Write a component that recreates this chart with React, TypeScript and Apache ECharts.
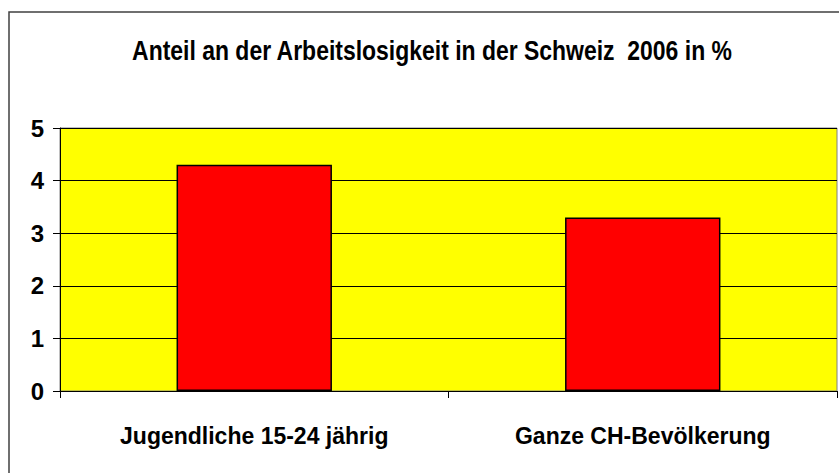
import React, { useEffect, useRef } from "react";
import * as echarts from "echarts";

const categories = ["Jugendliche 15-24 jährig", "Ganze CH-Bevölkerung"];
const values = [4.3, 3.3];
const titleText = "Anteil an der Arbeitslosigkeit in der Schweiz  2006 in %";

const FONT = "'Liberation Sans', Arial, sans-serif";

export default function App() {
  const ref = useRef<HTMLDivElement>(null);
  useEffect(() => {
    document.body.style.margin = "0";
    const chart = echarts.init(ref.current!, undefined, { renderer: "svg" });
    chart.setOption({
      animation: false,
      backgroundColor: "#ffffff",
      graphic: [
        {
          type: "text",
          x: 432,
          y: 50,
          scaleX: 0.82,
          style: {
            text: titleText,
            textAlign: "center",
            textVerticalAlign: "middle",
            fontFamily: FONT,
            fontWeight: "bold",
            fontSize: 28,
            fill: "#000",
          },
          silent: true,
        },
        {
          type: "rect",
          shape: { x: 9, y: 12, width: 860, height: 500 },
          style: { fill: "none", stroke: "#404040", lineWidth: 1.5 },
          silent: true,
          z: 100,
        },
      ],
      grid: {
        left: 60,
        top: 128,
        right: 2,
        bottom: 82,
        show: true,
        backgroundColor: "#FFFF00",
        borderColor: "#808080",
        borderWidth: 1,
      },
      xAxis: {
        type: "category",
        data: categories,
        axisLine: { show: true, lineStyle: { color: "#000", width: 1 } },
        axisTick: { show: true, length: 7, lineStyle: { color: "#000" } },
        axisLabel: {
          interval: 0,
          margin: 33,
          fontFamily: FONT,
          fontWeight: "bold",
          fontSize: 23,
          color: "#000",
        },
        splitLine: { show: false },
      },
      yAxis: {
        type: "value",
        min: 0,
        max: 5,
        interval: 1,
        axisLine: { show: true, lineStyle: { color: "#000", width: 1 } },
        axisTick: { show: true, length: 7, lineStyle: { color: "#000" } },
        axisLabel: {
          margin: 16,
          fontFamily: FONT,
          fontWeight: "bold",
          fontSize: 24,
          color: "#000",
        },
        splitLine: { show: true, lineStyle: { color: "#000", width: 1 } },
      },
      series: [
        {
          type: "bar",
          data: values,
          barWidth: "40%",
          itemStyle: { color: "#FF0000", borderColor: "#000", borderWidth: 1.5 },
        },
      ],
    });
    return () => chart.dispose();
  }, []);
  return <div ref={ref} style={{ position: "fixed", left: 0, top: 0, width: 839, height: 473 }} />;
}
